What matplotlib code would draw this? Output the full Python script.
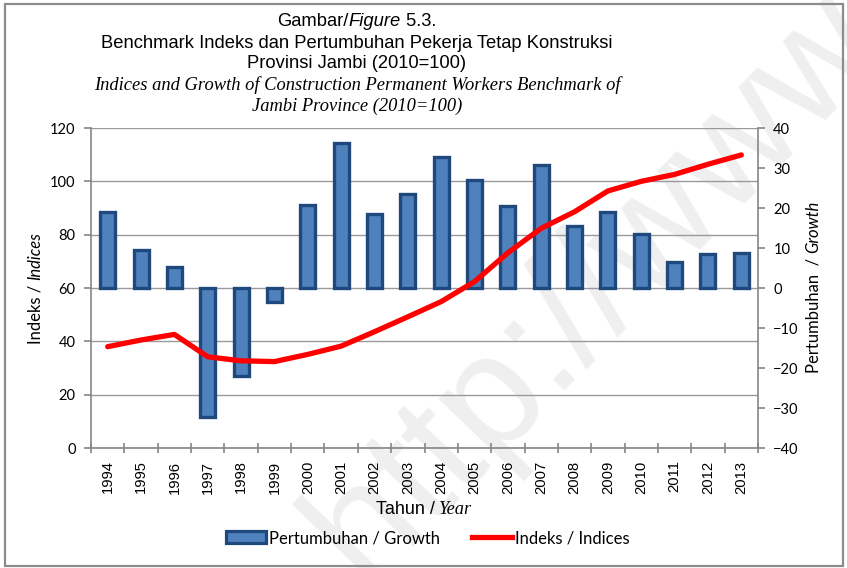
import numpy as np
import matplotlib
matplotlib.use("Agg")
import matplotlib.pyplot as plt
from matplotlib.patches import Patch, Rectangle
from matplotlib.lines import Line2D
from matplotlib.ticker import MultipleLocator, FixedLocator

# data
years = [str(y) for y in range(1994, 2014)]
growth = [19.0, 9.6, 5.3, -32.2, -21.9, -3.5, 20.7, 36.3, 18.6, 23.4,
          32.7, 27.1, 20.4, 30.7, 15.5, 19.0, 13.5, 6.5, 8.5, 8.8]
indeks = [38.0, 40.5, 42.6, 34.2, 32.7, 32.4, 35.1, 38.2, 43.6, 49.2,
          54.9, 62.4, 73.2, 82.4, 88.6, 96.4, 100.0, 102.6, 106.4, 109.9]

W, H = 847, 568
BAR_FACE = '#4F81BD'
BAR_EDGE = '#1F497D'
GRID = '#9a9a9a'
AXC = '#868686'
SANS = 'Liberation Sans'
SERIF = 'Liberation Serif'
CAL = 'Lato'

fig = plt.figure(figsize=(W / 100, H / 100), dpi=100)
fig.patch.set_facecolor('white')
renderer = fig.canvas.get_renderer()

# faint watermark behind everything
fig.text(365 / W, 1 - 585 / H, 'http://www', fontsize=116, family=SANS,
         color='#efefef', rotation=46, rotation_mode='anchor',
         ha='left', va='baseline', zorder=-5)

# outer frame
fig.add_artist(Rectangle((5 / W, 1 - 566 / H), 838 / W, 562 / H,
                         transform=fig.transFigure, fill=False,
                         edgecolor='#8c8c8c', lw=1.6, zorder=-4))

ax = fig.add_axes([91 / W, 1 - 448 / H, 667 / W, 320 / H])
ax.patch.set_visible(False)
ax2 = ax.twinx()

x = np.arange(len(years))
ax.set_xlim(-0.5, len(years) - 0.5)
ax.set_ylim(0, 120)
ax2.set_ylim(-40, 40)

ax.yaxis.set_major_locator(MultipleLocator(20))
ax2.yaxis.set_major_locator(MultipleLocator(10))
ax.grid(axis='y', color=GRID, lw=1.0)
ax.set_axisbelow(True)

ax2.bar(x, growth, width=0.45, color=BAR_FACE, edgecolor=BAR_EDGE,
        linewidth=2.4, zorder=2)
ax2.plot(x, indeks, color='#FF0000', lw=3.8, solid_capstyle='round',
         transform=ax.transData, zorder=3)

for a in (ax, ax2):
    a.spines['top'].set_visible(False)
    for s in ('left', 'right', 'bottom'):
        a.spines[s].set_color(AXC)
        a.spines[s].set_linewidth(1.2)
ax.spines['right'].set_visible(False)
ax2.spines['left'].set_visible(False)
ax2.spines['bottom'].set_visible(False)

ax.set_xticks(x)
ax.set_xticklabels(years, rotation=90, family=SANS, fontsize=10.6)
ax.xaxis.set_minor_locator(FixedLocator(np.arange(-0.5, len(years), 1)))
ax.tick_params(axis='x', which='major', length=0, pad=9)
ax.tick_params(axis='x', which='minor', length=7, direction='inout',
               color=AXC, width=1.2)
ax.tick_params(axis='y', length=5, color=AXC, width=1.2, pad=6,
               labelsize=10.5)
ax2.tick_params(axis='y', length=5, color=AXC, width=1.2, pad=6,
                labelsize=10.5)
for lab in ax.get_yticklabels() + ax2.get_yticklabels():
    lab.set_family(CAL)


def text_width(s, **kw):
    t = fig.text(0, 0, s, **kw)
    w = t.get_window_extent(renderer).width
    t.remove()
    return w


def put_row(pieces, cx, cy, rotation=0):
    # pieces laid end to end, centred at (cx, cy) in image pixels
    widths = [text_width(s, **kw) for s, kw in pieces]
    pos = -sum(widths) / 2
    for (s, kw), w in zip(pieces, widths):
        if rotation == 0:
            fig.text((cx + pos) / W, 1 - cy / H, s, ha='left', va='baseline', **kw)
        else:
            fig.text(cx / W, 1 - (cy - pos) / H, s, ha='left', va='baseline',
                     rotation=90, rotation_mode='anchor', **kw)
        pos += w


tf = dict(family=SANS, fontsize=13.2)
tfi = dict(family=SANS, fontsize=13.2, style='italic')
sf = dict(family=SERIF, fontsize=13.3, style='italic')
put_row([('Gambar/', tf), ('Figure', tfi), (' 5.3.', tf)], 357, 26)
put_row([('Benchmark Indeks dan Pertumbuhan Pekerja Tetap Konstruksi', tf)], 357, 48)
put_row([('Provinsi Jambi (2010=100)', tf)], 357, 68)
put_row([('Indices and Growth of Construction Permanent Workers Benchmark of', sf)], 357, 90)
put_row([('Jambi Province (2010=100)', sf)], 357, 111)

cf = dict(family=CAL, fontsize=12)
cfi = dict(family=CAL, fontsize=12, style='italic')
put_row([('Indeks / ', cf), ('Indices', cfi)], 40, 288, rotation=90)
put_row([('Pertumbuhan  / ', cf), ('Growth', cfi)], 818, 287, rotation=90)
put_row([('Tahun / ', dict(family=SANS, fontsize=13)),
         ('Year', dict(family=SERIF, fontsize=13.2, style='italic'))], 424, 514)

handles = [Patch(facecolor=BAR_FACE, edgecolor=BAR_EDGE, lw=2.3),
           Line2D([], [], color='#FF0000', lw=3.8)]
fig.legend(handles, ['Pertumbuhan / Growth', 'Indeks / Indices'],
           loc='center', bbox_to_anchor=(428 / W, 1 - 538 / H), ncol=2,
           frameon=False, prop=dict(family=CAL, size=12),
           handlelength=2.4, handleheight=0.7, handletextpad=0.2,
           columnspacing=1.9)

fig.savefig('out.png', dpi=100)
